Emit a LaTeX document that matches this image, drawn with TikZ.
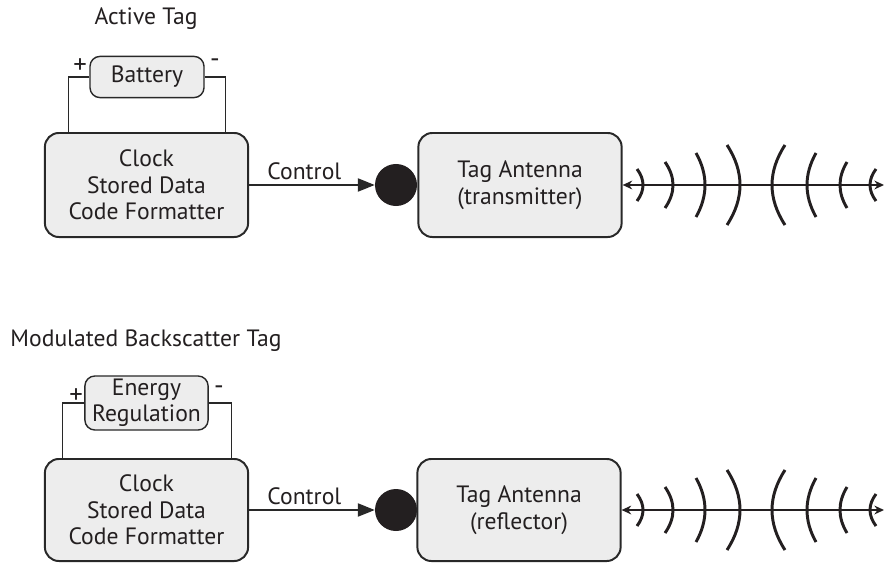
\documentclass[tikz,border=0pt]{standalone}
\usepackage{fontspec}
\setmainfont{PT Sans}
\usetikzlibrary{positioning,arrows.meta}
\definecolor{tagInk}{RGB}{35,31,32}
\definecolor{tagFill}{RGB}{237,237,237}
\definecolor{tagLine}{RGB}{40,40,40}
\tikzset{
    base/.style={font=\fontsize{16.8}{18.8}\selectfont, text=tagInk, align=center},
    module/.style={base, rectangle, rounded corners=3.5mm, draw=tagLine, line width=1.4pt,
                   fill=tagFill, minimum width=5.08cm, minimum height=2.6cm, inner sep=0pt},
    supply/.style={base, rectangle, rounded corners=2.5mm, draw=tagLine, line width=1pt,
                   fill=tagFill, minimum height=1.03cm, inner sep=0pt},
    junction/.style={circle, fill=tagInk, minimum size=1.05cm, inner sep=0pt},
    sign/.style={base, font=\fontsize{19}{20}\selectfont, inner sep=0pt},
    wire/.style={draw=tagLine, line width=0.8pt},
    flow/.style={-{Triangle[length=4.2mm, width=3.3mm]}, draw=tagLine, line width=0.9pt},
    wave/.style={draw=tagInk, line width=2.1pt},
    beam/.style={{Stealth[length=2.4mm, width=2.2mm]}-{Stealth[length=2.4mm, width=2.2mm]},
                 draw=tagInk, line width=1.1pt}
}
\begin{document}
\begin{tikzpicture}[x=0.025cm, y=0.025cm]
  \useasboundingbox (0,0) rectangle (885,562);

  % Active tag
  \node[base] (act) at (146,543) {Active Tag};
  \node[supply, minimum width=2.85cm] (bat) at (147,485) {Battery};
  \node[module] (clk1) at (146.5,377) {Clock\\Stored Data\\Code Formatter};
  \node[junction] (dot1) at (396,377) {};
  \node[module] (ant1) at (520,377) {Tag Antenna\\(transmitter)};
  \coordinate (far1) at (884,377);
  \node[sign] (plus1) at (80,496) {+};
  \node[sign] (minus1) at (215,499) {-};

  \draw[wire] (bat.west) -| ([xshift=0.625cm]clk1.north west);
  \draw[wire] (bat.east) -| ([xshift=-0.6cm]clk1.north east);
  \draw[flow] (clk1) -- node[base, above, inner sep=3pt, pos=0.44] {Control} (dot1);
  \draw[beam] (ant1) -- (far1);

  % Modulated backscatter tag
  \node[base] (mbt) at (146,221) {Modulated Backscatter Tag};
  \node[supply, minimum width=3.08cm, minimum height=1.35cm] (reg) at (146.5,159) {Energy\\Regulation};
  \node[module, minimum height=2.55cm] (clk2) at (146.5,52) {Clock\\Stored Data\\Code Formatter};
  \node[junction] (dot2) at (396,52) {};
  \node[module, minimum height=2.55cm] (ant2) at (519,52) {Tag Antenna\\(reflector)};
  \coordinate (far2) at (884,52);
  \node[sign] (plus2) at (76,166) {+};
  \node[sign] (minus2) at (219,172) {-};

  \draw[wire] (reg.west) -| ([xshift=0.475cm]clk2.north west);
  \draw[wire] (reg.east) -| ([xshift=-0.45cm]clk2.north east);
  \draw[flow] (clk2) -- node[base, above, inner sep=3pt, pos=0.44] {Control} (dot2);
  \draw[beam] (ant2) -- (far2);

  % Radiated waves
  \foreach \yc in {377,52}
    \foreach \x/\h/\s in {637/16/6, 665/23/8, 696/32/9, 727/40/13,
                          785/40/-13, 816/32/-9, 847/23/-7, 876/16/-6}
      \draw[wave] (\x,{\yc-\h}) .. controls ({\x+1.333*\s},{\yc-\h/3})
                  and ({\x+1.333*\s},{\yc+\h/3}) .. (\x,{\yc+\h});
\end{tikzpicture}
\end{document}
